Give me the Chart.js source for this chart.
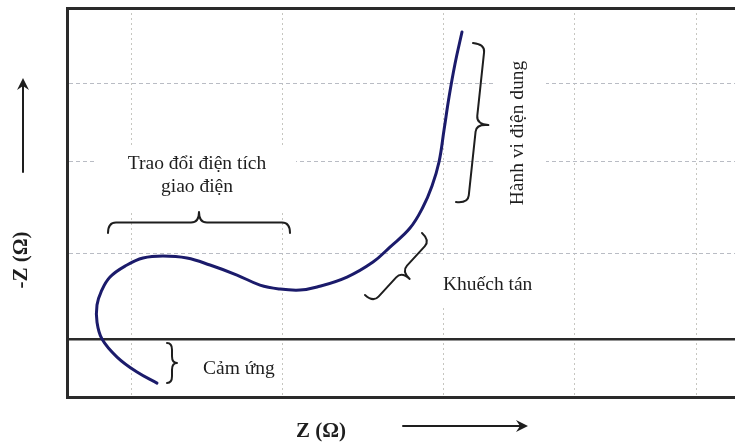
<!DOCTYPE html>
<html>
<head>
<meta charset="utf-8">
<script src="https://cdn.jsdelivr.net/npm/chart.js@4/dist/chart.umd.min.js"></script>
<style>
html,body{margin:0;padding:0;background:#fff;}
canvas{display:block;}
</style>
</head>
<body>
<canvas id="c" width="735" height="443"></canvas>
<script>
const curveZ = [13.47, 10.48, 7.49, 5.24, 4.49, 4.49, 5.09, 6.44, 8.98, 11.38, 14.37, 17.96, 21.41, 25.45, 28.89, 31.89, 34.88, 37.43, 41.92, 45.81, 48.35, 51.35, 53.29, 54.64, 55.69, 56.44, 57.19, 58.08, 59.13];
// Imaginary part -Z (Ω)
const curveNegZ = [-13.29, -9.97, -5.44, 0, 5.14, 10.27, 14.20, 18.73, 22.36, 24.47, 25.08, 24.47, 22.36, 19.34, 16.31, 15.11, 14.80, 15.71, 18.73, 23.26, 27.79, 33.53, 39.88, 46.22, 53.47, 63.14, 73.11, 83.08, 92.75];
// Grid positions
const gridZ = [9.7, 32.3, 56.3, 76.0, 94.3];
const gridNegZ = [0, 25.7, 53.5, 77.3, 100];
// Texts
const axisLabelX = 'Z (\u03A9)';
const axisLabelY = '-Z (\u03A9)';
const labelCharge = ['Trao đổi điện tích', 'giao điện'];
const labelInduct = 'Cảm ứng';
const labelDiffus = 'Khuếch tán';
const labelCapac = 'Hành vi điện dung';

const points = curveZ.map((x, i) => ({x: x, y: curveNegZ[i]}));

function brace(ctx, x1, y1, x2, y2, h) {
  const L = Math.hypot(x2 - x1, y2 - y1), th = Math.atan2(y2 - y1, x2 - x1);
  const q = Math.min(8, L / 6), m = h / 2;
  ctx.save();
  ctx.translate(x1, y1); ctx.rotate(th);
  ctx.beginPath();
  ctx.moveTo(0, 0);
  ctx.quadraticCurveTo(0, m, q, m);
  ctx.lineTo(L / 2 - q, m);
  ctx.quadraticCurveTo(L / 2, m, L / 2, h);
  ctx.quadraticCurveTo(L / 2, m, L / 2 + q, m);
  ctx.lineTo(L - q, m);
  ctx.quadraticCurveTo(L, m, L, 0);
  ctx.stroke();
  ctx.restore();
}
function arrow(ctx, x1, y1, x2, y2) {
  const th = Math.atan2(y2 - y1, x2 - x1);
  ctx.save();
  ctx.translate(x2, y2); ctx.rotate(th);
  const L = Math.hypot(x2 - x1, y2 - y1);
  ctx.beginPath(); ctx.moveTo(-L, 0); ctx.lineTo(-6, 0); ctx.stroke();
  ctx.beginPath(); ctx.moveTo(0, 0); ctx.lineTo(-12, -6); ctx.lineTo(-8, 0); ctx.lineTo(-12, 6); ctx.closePath(); ctx.fill();
  ctx.restore();
}

const annot = {
  id: 'annot',
  beforeDatasetsDraw(chart) {
    const ctx = chart.ctx;
    ctx.save();
    ctx.fillStyle = '#ffffff';
    ctx.fillRect(97, 145, 199, 65);
    ctx.fillRect(495, 40, 51, 175);
    ctx.fillRect(438, 262, 100, 44);
    ctx.restore();
  },
  afterDatasetsDraw(chart) {
    const ctx = chart.ctx;
    ctx.save();
    ctx.strokeStyle = '#1e1e1e';
    ctx.fillStyle = '#1e1e1e';
    ctx.lineWidth = 2;
    ctx.lineCap = 'round';
    ctx.lineJoin = 'round';
    brace(ctx, 108, 233, 290, 233, -21);
    brace(ctx, 167, 343, 167, 383, -10);
    brace(ctx, 473, 43, 456, 202, -24);
    brace(ctx, 365, 295, 422, 233, 22);
    arrow(ctx, 23, 172, 23, 78);
    arrow(ctx, 403, 426, 528, 426);

    ctx.font = '19.5px "Liberation Serif", "Times New Roman", serif';
    ctx.textAlign = 'center';
    ctx.textBaseline = 'alphabetic';
    ctx.fillText(labelCharge[0], 197, 169);
    ctx.fillText(labelCharge[1], 197, 192);
    ctx.textAlign = 'left';
    ctx.fillText(labelInduct, 203, 374);
    ctx.fillText(labelDiffus, 443, 290);
    ctx.save();
    ctx.translate(523, 133); ctx.rotate(-Math.PI / 2);
    ctx.textAlign = 'center';
    ctx.fillText(labelCapac, 0, 0);
    ctx.restore();

    ctx.font = 'bold 21px "Liberation Serif", "Times New Roman", serif';
    ctx.textAlign = 'center';
    ctx.fillText(axisLabelX, 321, 437);
    ctx.save();
    ctx.translate(22, 260); ctx.rotate(-Math.PI / 2);
    ctx.textBaseline = 'middle';
    ctx.fillText(axisLabelY, 0, 0);
    ctx.restore();
    ctx.restore();
  }
};

const isFrame = c => c.tick && (c.tick.value === 0 || c.tick.value === 100);

new Chart(document.getElementById('c'), {
  type: 'line',
  data: {
    datasets: [{
      data: points,
      borderColor: '#1b1b6b',
      borderWidth: 3,
      borderCapStyle: 'round',
      pointRadius: 0,
      tension: 0.4,
      fill: false
    }]
  },
  options: {
    responsive: false,
    animation: false,
    devicePixelRatio: 1,
    events: [],
    layout: { autoPadding: false, padding: { left: 67, top: 8, right: 0, bottom: 46 } },
    plugins: { legend: { display: false }, tooltip: { enabled: false }, title: { display: false } },
    scales: {
      x: {
        type: 'linear', min: 0, max: 100,
        ticks: { display: false },
        grid: { drawTicks: false, color: '#c6c6c0', lineWidth: 1 },
        border: { display: true, color: '#2a2a2a', width: 3, dash: [2, 3] },
        afterBuildTicks: s => { s.ticks = gridZ.map(v => ({ value: v })); }
      },
      y: {
        type: 'linear', min: -17.5, max: 100,
        ticks: { display: false },
        grid: {
          drawTicks: false,
          color: c => isFrame(c) ? '#2a2a2a' : '#b9bcc4',
          lineWidth: c => (c.tick && c.tick.value === 0) ? 2.5 : (c.tick && c.tick.value === 100) ? 3 : 1
        },
        border: { display: true, color: '#2a2a2a', width: 3, dash: c => isFrame(c) ? [] : [4, 3] },
        afterBuildTicks: s => { s.ticks = gridNegZ.map(v => ({ value: v })); }
      }
    }
  },
  plugins: [annot]
});
</script>
</body>
</html>
